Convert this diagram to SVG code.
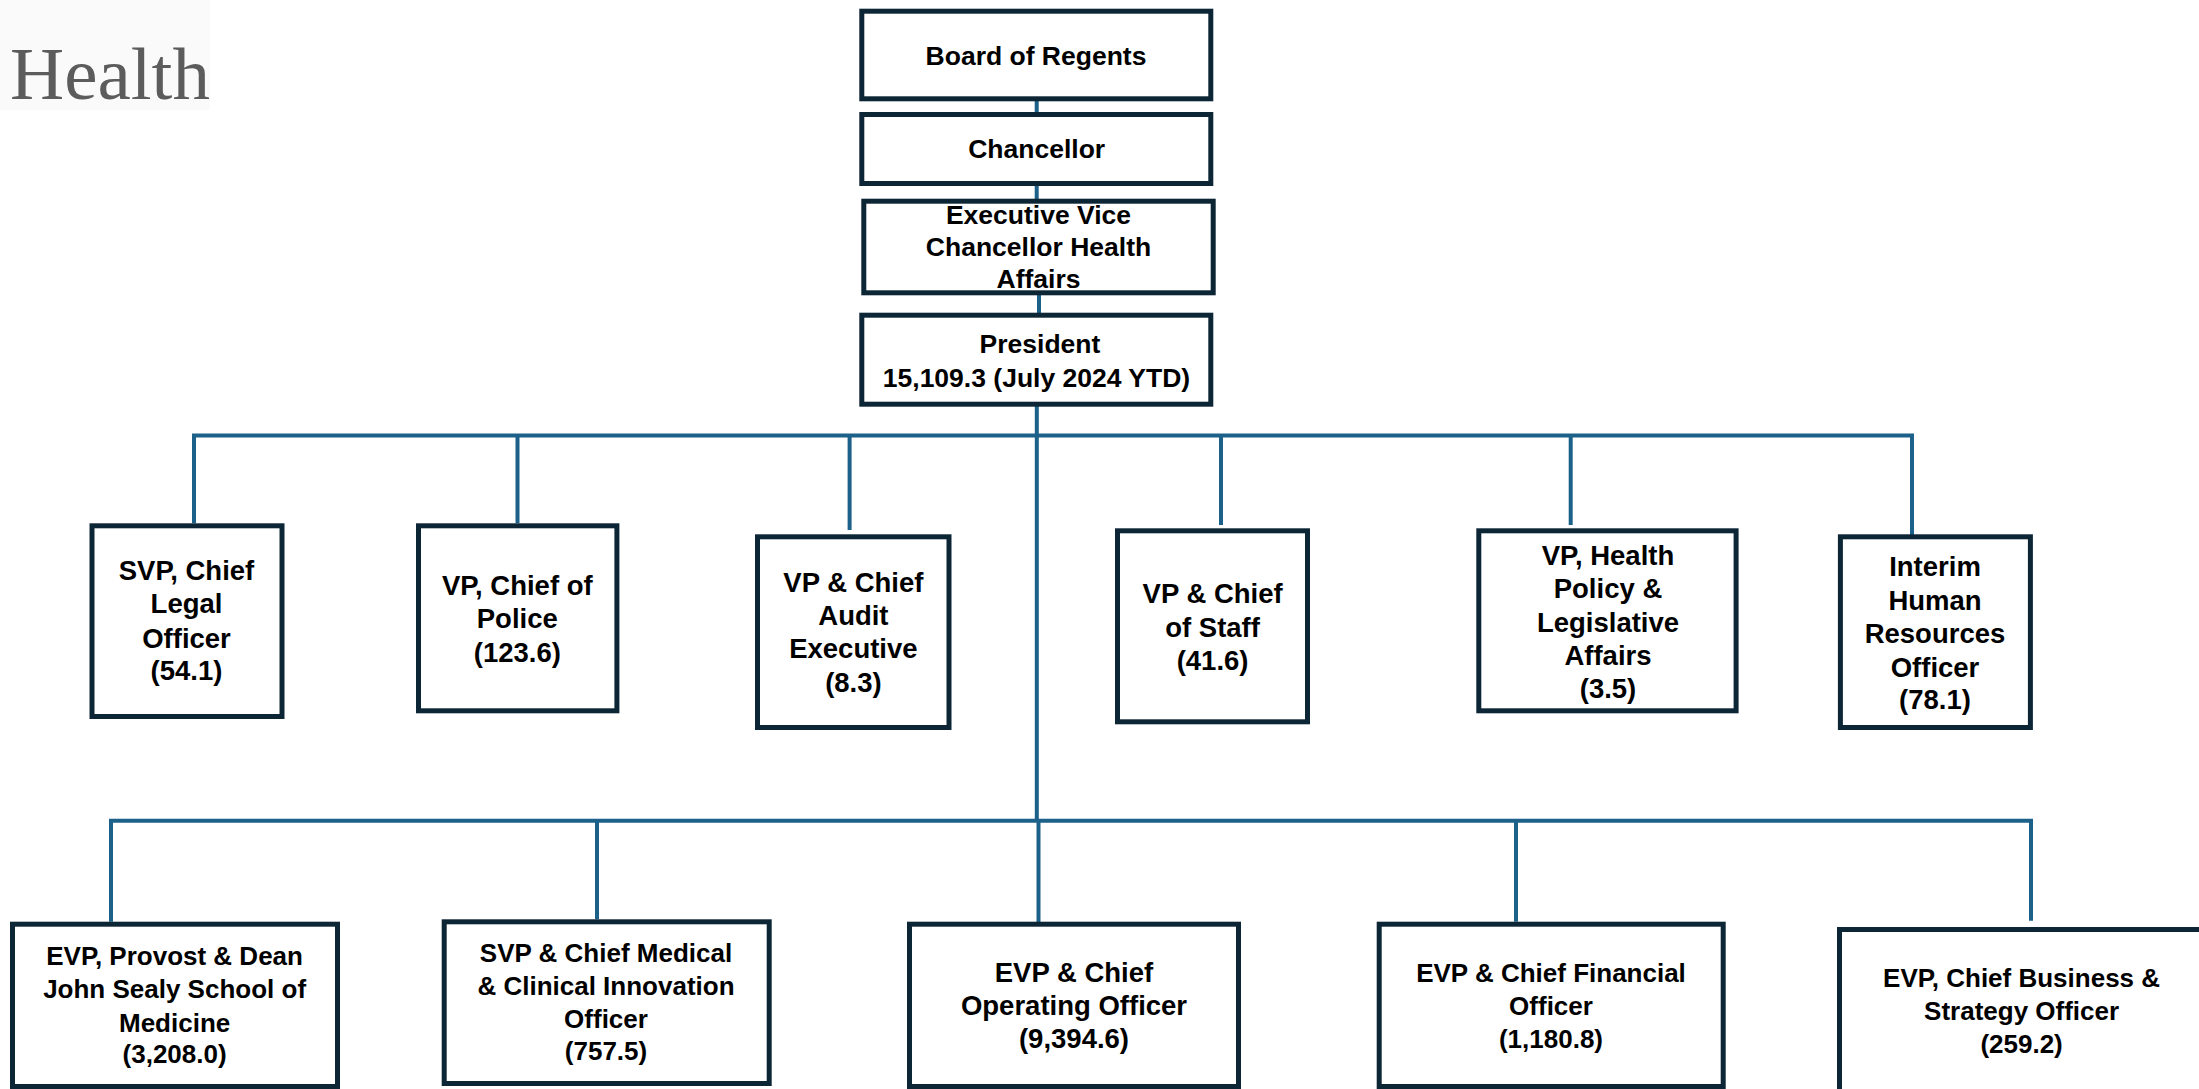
<svg xmlns="http://www.w3.org/2000/svg" width="2199" height="1089" viewBox="0 0 2199 1089">
<style>
.box{fill:#ffffff;stroke:#0d2636;stroke-width:5}
.lbl{font-family:"Liberation Sans",Arial,sans-serif;font-weight:bold;fill:#000000;text-anchor:middle}
.t{font-size:26.5px}
.m{font-size:27.5px}
.b{font-size:26px}
.conn{stroke:#1c6189;stroke-width:4;fill:none}
</style>
<rect x="0" y="0" width="2199" height="1089" fill="#ffffff"/>
<g id="logo">
<rect x="0" y="0" width="210" height="110" fill="#fafafa"/>
<text x="10" y="99" font-family="Liberation Serif,'Times New Roman',serif" font-size="75" fill="#5c5c5c">Health</text>
</g>
<g id="connectors" class="conn">
<line x1="1036.7" y1="100" x2="1036.7" y2="113"/>
<line x1="1036.7" y1="185" x2="1036.7" y2="200"/>
<line x1="1039" y1="294" x2="1039" y2="314"/>
<line x1="1036.8" y1="406" x2="1036.8" y2="820.7"/>
<line x1="1038.5" y1="820.7" x2="1038.5" y2="922"/>
<polyline points="194,523.3 194,435.5 1912,435.5 1912,535"/>
<line x1="517.5" y1="435.5" x2="517.5" y2="523.3"/>
<line x1="849.6" y1="435.5" x2="849.6" y2="530"/>
<line x1="1221" y1="435.5" x2="1221" y2="525"/>
<line x1="1570.7" y1="435.5" x2="1570.7" y2="525"/>
<polyline points="111,921.7 111,820.7 2031,820.7 2031,920.7"/>
<line x1="597" y1="820.7" x2="597" y2="919.3"/>
<line x1="1516" y1="820.7" x2="1516" y2="921.7"/>
</g>
<g id="board">
<rect class="box" x="861.8" y="11.2" width="349" height="87.6"/>
<text class="lbl t" x="1036" y="65">Board of Regents</text>
</g>
<g id="chancellor">
<rect class="box" x="861.8" y="114.5" width="349" height="69"/>
<text class="lbl t" x="1036.7" y="158.3">Chancellor</text>
</g>
<g id="evc">
<rect class="box" x="863.8" y="201.2" width="349.4" height="91.6"/>
<text class="lbl t" x="1038.5" y="224">Executive Vice</text>
<text class="lbl t" x="1038.5" y="256">Chancellor Health</text>
<text class="lbl t" x="1038.5" y="287.5">Affairs</text>
</g>
<g id="president">
<rect class="box" x="861.8" y="315.2" width="349" height="89"/>
<text class="lbl t" x="1040" y="353.3">President</text>
<text class="lbl t" x="1036.5" y="386.7">15,109.3 (July 2024 YTD)</text>
</g>
<g id="legal">
<rect class="box" x="92" y="525.8" width="190" height="190.7"/>
<text class="lbl m" x="186.5" y="580">SVP, Chief</text>
<text class="lbl m" x="186.5" y="613.3">Legal</text>
<text class="lbl m" x="186.5" y="647.7">Officer</text>
<text class="lbl m" x="186.5" y="680">(54.1)</text>
</g>
<g id="police">
<rect class="box" x="418.5" y="525.8" width="198.4" height="185"/>
<text class="lbl m" x="517.3" y="595">VP, Chief of</text>
<text class="lbl m" x="517.3" y="628.3">Police</text>
<text class="lbl m" x="517.3" y="661.7">(123.6)</text>
</g>
<g id="audit">
<rect class="box" x="757.5" y="536.8" width="191.5" height="190.7"/>
<text class="lbl m" x="853.4" y="591.7">VP &amp; Chief</text>
<text class="lbl m" x="853.4" y="625">Audit</text>
<text class="lbl m" x="853.4" y="658.3">Executive</text>
<text class="lbl m" x="853.4" y="691.7">(8.3)</text>
</g>
<g id="staff">
<rect class="box" x="1117.5" y="530.8" width="190" height="191"/>
<text class="lbl m" x="1212.6" y="602.7">VP &amp; Chief</text>
<text class="lbl m" x="1212.6" y="636.7">of Staff</text>
<text class="lbl m" x="1212.6" y="670">(41.6)</text>
</g>
<g id="healthpolicy">
<rect class="box" x="1478.8" y="530.8" width="257.3" height="180"/>
<text class="lbl m" x="1608" y="565">VP, Health</text>
<text class="lbl m" x="1608" y="598.3">Policy &amp;</text>
<text class="lbl m" x="1608" y="631.7">Legislative</text>
<text class="lbl m" x="1608" y="665">Affairs</text>
<text class="lbl m" x="1608" y="698.3">(3.5)</text>
</g>
<g id="hr">
<rect class="box" x="1840.4" y="536.8" width="190" height="190.7"/>
<text class="lbl m" x="1935" y="576">Interim</text>
<text class="lbl m" x="1935" y="610">Human</text>
<text class="lbl m" x="1935" y="642.7">Resources</text>
<text class="lbl m" x="1935" y="676.7">Officer</text>
<text class="lbl m" x="1935" y="709.3">(78.1)</text>
</g>
<g id="provost">
<rect class="box" x="12.5" y="924.2" width="325" height="162.3"/>
<text class="lbl b" x="174.6" y="965">EVP, Provost &amp; Dean</text>
<text class="lbl b" x="174.6" y="998.3">John Sealy School of</text>
<text class="lbl b" x="174.6" y="1031.7">Medicine</text>
<text class="lbl b" x="174.6" y="1063.3">(3,208.0)</text>
</g>
<g id="cmo">
<rect class="box" x="444.2" y="921.8" width="325" height="161.7"/>
<text class="lbl b" x="606" y="961.7">SVP &amp; Chief Medical</text>
<text class="lbl b" x="606" y="995">&amp; Clinical Innovation</text>
<text class="lbl b" x="606" y="1028.3">Officer</text>
<text class="lbl b" x="606" y="1060">(757.5)</text>
</g>
<g id="coo">
<rect class="box" x="909.5" y="924.2" width="329" height="162.3"/>
<text class="lbl m" x="1074" y="981.7">EVP &amp; Chief</text>
<text class="lbl m" x="1074" y="1015">Operating Officer</text>
<text class="lbl m" x="1074" y="1048.3">(9,394.6)</text>
</g>
<g id="cfo">
<rect class="box" x="1379.2" y="924.2" width="344" height="162.3"/>
<text class="lbl b" x="1551" y="981.7">EVP &amp; Chief Financial</text>
<text class="lbl b" x="1551" y="1015">Officer</text>
<text class="lbl b" x="1551" y="1048.3">(1,180.8)</text>
</g>
<g id="cbso">
<rect class="box" x="1839.5" y="929.5" width="370" height="170"/>
<text class="lbl b" x="2021.6" y="986.7">EVP, Chief Business &amp;</text>
<text class="lbl b" x="2021.6" y="1020">Strategy Officer</text>
<text class="lbl b" x="2021.6" y="1053.3">(259.2)</text>
</g>
</svg>
